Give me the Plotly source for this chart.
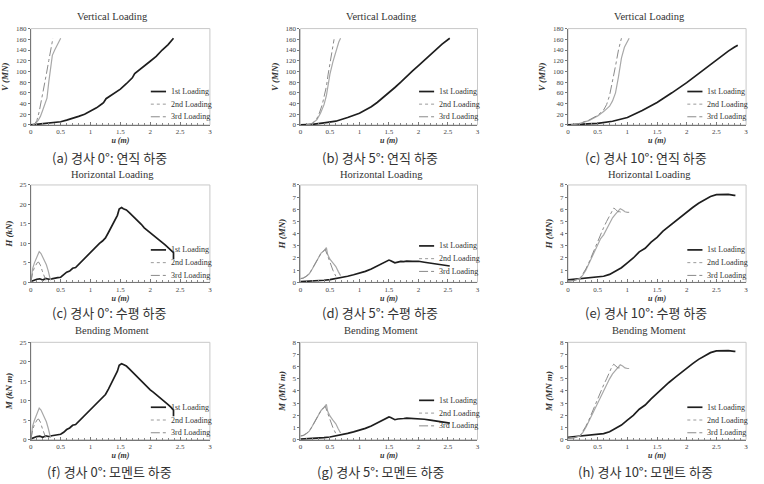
import plotly.graph_objects as go
from plotly.subplots import make_subplots

W, H = 764, 484

# ---------------- data ----------------
# (a) Vertical loading, 0 deg
V0_u1 = [0,0.1,0.2,0.3,0.4,0.5,0.6,0.7,0.8,0.9,1.0,1.1,1.2,1.22,1.26,1.3,1.4,1.5,1.6,1.7,1.74,1.8,1.9,2.0,2.1,2.15,2.2,2.3,2.39]
V0_v1 = [0,1,2,3,4,6,9,12,16,20,26,32,40,42,49,52,59,67,77,88,96,101,110,119,128,135,140,150,162]
V0_u2 = [0.03,0.08,0.12,0.16,0.2,0.24,0.27,0.3,0.33,0.36,0.4,0.45,0.5]
V0_v2 = [0,3,8,16,28,40,50,80,108,130,140,150,162]
V0_u3 = [0.03,0.07,0.1,0.14,0.18,0.22,0.26,0.3,0.34,0.37]
V0_v3 = [0,3,8,25,48,75,95,120,145,162]

# (b) Vertical loading, 5 deg
V5_u1 = [0,0.2,0.4,0.6,0.8,1.0,1.1,1.2,1.3,1.4,1.5,1.6,1.7,1.8,1.9,2.0,2.1,2.2,2.3,2.4,2.53]
V5_v1 = [0,1,4,7,14,22,28,34,42,51,60,70,80,91,101,111,121,132,142,151,162]
V5_u2 = [0.1,0.2,0.28,0.34,0.4,0.44,0.47,0.5,0.55,0.6,0.65,0.68]
V5_v2 = [0,3,10,22,38,55,75,95,118,138,155,162]
V5_u3 = [0.1,0.2,0.27,0.32,0.37,0.41,0.44,0.47,0.51,0.55,0.57]
V5_v3 = [0,3,10,22,38,55,72,95,120,145,160]

# (c) Vertical loading, 10 deg
V10_u1 = [0,0.25,0.5,0.75,1.0,1.25,1.5,1.75,2.0,2.25,2.5,2.6,2.7,2.8,2.86]
V10_v1 = [0,1,3,7,14,27,42,60,79,100,122,130,138,145,149]
V10_u2 = [0.05,0.2,0.35,0.5,0.6,0.7,0.75,0.8,0.85,0.9,0.95,1.0,1.03]
V10_v2 = [0,3,8,17,25,35,45,60,90,125,145,156,162]
V10_u3 = [0.05,0.2,0.35,0.5,0.6,0.65,0.7,0.75,0.8,0.85,0.9]
V10_v3 = [0,3,9,18,28,38,55,80,110,140,162]

# Horizontal loading, 0 deg
H0_u1 = [0,0.05,0.1,0.15,0.2,0.25,0.3,0.35,0.4,0.45,0.5,0.55,0.6,0.65,0.7,0.75,0.8,0.85,0.9,0.95,1.0,1.05,1.1,1.15,1.2,1.25,1.3,1.35,1.4,1.45,1.48,1.52,1.55,1.6,1.65,1.7,1.75,1.8,1.85,1.9,1.95,2.0,2.05,2.1,2.15,2.2,2.25,2.3,2.35,2.39,2.39]
H0_h1 = [0.2,0.6,0.8,0.9,0.6,1.0,0.8,0.9,1.1,1.2,1.3,1.9,2.6,2.9,3.6,3.8,4.6,5.2,6.1,6.8,7.6,8.4,9.2,10.0,10.6,11.4,12.8,14.2,15.6,17.2,18.8,19.2,18.9,18.6,17.9,17.2,16.4,15.6,14.9,14.0,13.4,12.6,12.1,11.5,11.0,10.3,9.6,8.9,8.2,7.6,6.0]
H0_u2 = [0,0.03,0.06,0.09,0.12,0.14,0.17,0.2,0.23,0.26,0.29,0.31,0.33]
H0_h2 = [0,3.5,5,6,7.3,7.9,7.4,6.5,5.3,4.5,3,1.5,0.5]
H0_u3 = [0,0.03,0.06,0.09,0.11,0.13,0.16,0.19,0.22,0.25]
H0_h3 = [0,2.5,3.8,4.6,5.1,5.2,4.4,3,1.6,0.5]

# Horizontal loading, 5 deg
H5_u1 = [0,0.1,0.2,0.3,0.4,0.5,0.6,0.7,0.8,0.9,1.0,1.1,1.2,1.3,1.4,1.45,1.5,1.53,1.57,1.6,1.65,1.7,1.75,1.8,1.9,2.0,2.1,2.2,2.3,2.4,2.5,2.53]
H5_h1 = [0.05,0.07,0.1,0.13,0.17,0.22,0.3,0.4,0.5,0.62,0.75,0.9,1.1,1.35,1.6,1.75,1.83,1.78,1.65,1.6,1.66,1.72,1.7,1.74,1.72,1.73,1.65,1.58,1.52,1.45,1.38,1.34]
H5_u2 = [0,0.05,0.1,0.15,0.2,0.25,0.3,0.35,0.4,0.44,0.46,0.5,0.55,0.6,0.64,0.68]
H5_h2 = [0.3,0.35,0.5,0.7,1.1,1.5,2.0,2.4,2.6,2.85,2.3,1.9,1.6,1.3,0.9,0.55]
H5_u3 = [0,0.05,0.1,0.15,0.2,0.25,0.3,0.35,0.4,0.42,0.46,0.5,0.55,0.6]
H5_h3 = [0.3,0.35,0.5,0.7,1.1,1.5,2.0,2.4,2.6,2.7,2.2,1.6,1.0,0.5]

# Horizontal loading, 10 deg
H10_u1 = [0,0.1,0.2,0.3,0.4,0.5,0.6,0.7,0.8,0.9,1.0,1.1,1.2,1.3,1.4,1.5,1.6,1.7,1.8,1.9,2.0,2.1,2.2,2.3,2.4,2.5,2.6,2.7,2.8,2.82]
H10_h1 = [0.2,0.25,0.3,0.32,0.38,0.42,0.5,0.65,0.9,1.2,1.6,2.0,2.5,2.8,3.3,3.7,4.2,4.6,5.0,5.4,5.8,6.15,6.5,6.8,7.05,7.2,7.2,7.22,7.15,7.15]
H10_u2 = [0,0.1,0.2,0.25,0.3,0.35,0.4,0.45,0.5,0.55,0.6,0.65,0.7,0.75,0.8,0.85,0.88,0.92,0.96,1.0,1.03]
H10_h2 = [0.1,0.15,0.3,0.6,1.0,1.5,2.0,2.5,3.1,3.6,3.9,4.4,4.9,5.3,5.6,5.9,6.05,5.95,5.8,5.75,5.75]
H10_u3 = [0,0.1,0.2,0.25,0.3,0.35,0.4,0.45,0.5,0.55,0.6,0.65,0.7,0.74,0.77,0.8,0.84,0.87,0.9]
H10_h3 = [0.1,0.15,0.3,0.65,1.1,1.6,2.2,2.7,3.3,3.9,4.5,5.0,5.5,5.9,6.1,6.0,5.8,5.8,5.75]

# Bending moment, 0 deg
M0_u1 = [0,0.05,0.1,0.15,0.2,0.25,0.3,0.35,0.4,0.45,0.5,0.55,0.6,0.65,0.7,0.75,0.8,0.85,0.9,0.95,1.0,1.05,1.1,1.15,1.2,1.25,1.3,1.35,1.4,1.45,1.48,1.52,1.55,1.6,1.65,1.7,1.75,1.8,1.85,1.9,1.95,2.0,2.05,2.1,2.15,2.2,2.25,2.3,2.35,2.39,2.39]
M0_m1 = [0.2,0.6,0.8,0.9,0.6,1.0,0.8,1.0,1.1,1.2,1.4,1.9,2.6,3.0,3.7,3.9,4.7,5.3,6.2,7.0,7.8,8.6,9.4,10.2,10.8,11.6,13.0,14.5,16.0,17.6,19.1,19.5,19.3,18.9,18.2,17.4,16.6,15.8,15.0,14.2,13.5,12.8,12.2,11.6,11.0,10.3,9.6,9.0,8.3,7.6,6.0]
M0_u2 = [0,0.03,0.06,0.09,0.12,0.14,0.17,0.2,0.23,0.26,0.29,0.31,0.33]
M0_m2 = [0,3.5,5,6.1,7.5,8.1,7.6,6.6,5.4,4.6,3,1.5,0.5]
M0_u3 = [0,0.03,0.06,0.09,0.11,0.13,0.16,0.19,0.22,0.25]
M0_m3 = [0,2.5,3.9,4.7,5.2,5.3,4.5,3,1.6,0.5]

# Bending moment, 5 deg
M5_u1 = [0,0.1,0.2,0.3,0.4,0.5,0.6,0.7,0.8,0.9,1.0,1.1,1.2,1.3,1.4,1.45,1.5,1.53,1.57,1.6,1.65,1.7,1.75,1.8,1.9,2.0,2.1,2.2,2.3,2.4,2.5,2.53]
M5_m1 = [0.05,0.07,0.1,0.13,0.17,0.22,0.3,0.4,0.52,0.64,0.78,0.93,1.13,1.4,1.65,1.8,1.87,1.82,1.7,1.64,1.7,1.75,1.74,1.77,1.75,1.76,1.68,1.6,1.54,1.47,1.4,1.36]
M5_u2 = [0,0.05,0.1,0.15,0.2,0.25,0.3,0.35,0.4,0.44,0.46,0.5,0.55,0.6,0.64,0.68]
M5_m2 = [0.3,0.35,0.5,0.7,1.1,1.5,2.0,2.4,2.65,2.9,2.35,1.95,1.6,1.3,0.9,0.55]
M5_u3 = [0,0.05,0.1,0.15,0.2,0.25,0.3,0.35,0.4,0.42,0.46,0.5,0.55,0.6]
M5_m3 = [0.3,0.35,0.5,0.7,1.1,1.5,2.0,2.4,2.65,2.75,2.2,1.6,1.0,0.5]

# Bending moment, 10 deg
M10_u1 = [0,0.1,0.2,0.3,0.4,0.5,0.6,0.7,0.8,0.9,1.0,1.1,1.2,1.3,1.4,1.5,1.6,1.7,1.8,1.9,2.0,2.1,2.2,2.3,2.4,2.5,2.6,2.7,2.8,2.82]
M10_m1 = [0.2,0.25,0.3,0.32,0.38,0.42,0.5,0.65,0.9,1.2,1.6,2.0,2.5,2.85,3.35,3.8,4.3,4.7,5.1,5.5,5.9,6.25,6.6,6.9,7.15,7.3,7.3,7.32,7.25,7.25]
M10_u2 = [0,0.1,0.2,0.25,0.3,0.35,0.4,0.45,0.5,0.55,0.6,0.65,0.7,0.75,0.8,0.85,0.88,0.92,0.96,1.0,1.03]
M10_m2 = [0.1,0.15,0.3,0.6,1.0,1.5,2.0,2.5,3.1,3.6,4.0,4.5,5.0,5.4,5.7,6.0,6.15,6.05,5.9,5.85,5.85]
M10_u3 = [0,0.1,0.2,0.25,0.3,0.35,0.4,0.45,0.5,0.55,0.6,0.65,0.7,0.74,0.77,0.8,0.84,0.87,0.9]
M10_m3 = [0.1,0.15,0.3,0.65,1.1,1.6,2.2,2.7,3.3,3.9,4.5,5.0,5.6,6.0,6.2,6.1,5.9,5.9,5.85]

series_names = ["1st Loading", "2nd Loading", "3rd Loading"]
panel_titles = ["Vertical Loading", "Horizontal Loading", "Bending Moment"]
y_titles = [["V (MN)", "V (MN)", "V (MN)"],
            ["H (kN)", "H (MN)", "H (MN)"],
            ["M (kN m)", "M (MN m)", "M (MN m)"]]
captions = [["(a) 경사 0°: 연직 하중", "(b) 경사 5°: 연직 하중", "(c) 경사 10°: 연직 하중"],
            ["(c) 경사 0°: 수평 하중", "(d) 경사 5°: 수평 하중", "(e) 경사 10°: 수평 하중"],
            ["(f) 경사 0°: 모멘트 하중", "(g) 경사 5°: 모멘트 하중", "(h) 경사 10°: 모멘트 하중"]]
y_ranges = [[180, 180, 180], [25, 8, 8], [25, 8, 8]]
y_dticks = [[20, 20, 20], [5, 1, 1], [5, 1, 1]]

panels = [
    [((V0_u1, V0_v1), (V0_u2, V0_v2), (V0_u3, V0_v3)),
     ((V5_u1, V5_v1), (V5_u2, V5_v2), (V5_u3, V5_v3)),
     ((V10_u1, V10_v1), (V10_u2, V10_v2), (V10_u3, V10_v3))],
    [((H0_u1, H0_h1), (H0_u2, H0_h2), (H0_u3, H0_h3)),
     ((H5_u1, H5_h1), (H5_u2, H5_h2), (H5_u3, H5_h3)),
     ((H10_u1, H10_h1), (H10_u2, H10_h2), (H10_u3, H10_h3))],
    [((M0_u1, M0_m1), (M0_u2, M0_m2), (M0_u3, M0_m3)),
     ((M5_u1, M5_m1), (M5_u2, M5_m2), (M5_u3, M5_m3)),
     ((M10_u1, M10_m1), (M10_u2, M10_m2), (M10_u3, M10_m3))],
]

# ---------------- layout geometry (pixels) ----------------
col_px = [(29, 209), (300, 478), (569, 748)]
row_px = [(25, 123), (184, 283), (344, 443)]
title_y_px = [13, 173, 332]
caption_y_px = [156, 314, 475]
caption_x_px = [108, 380, 647]
legend_top = [[0.347, 0.347, 0.347], [0.333, 0.374, 0.333], [0.333, 0.404, 0.333]]
legend_gap = 0.131

def px(x):
    return x / W

def py(y):
    return 1 - y / H

SERIF = "Liberation Serif"
line_styles = [dict(color="#1e1e1e", width=1.7, dash="solid"),
               dict(color="#a8a8a8", width=1.2, dash="solid"),
               dict(color="#8a8a8a", width=1.0, dash="dashdot")]
legend_styles = [dict(color="#1e1e1e", width=1.7, dash="solid"),
                 dict(color="#9a9a9a", width=1.0, dash="dot"),
                 dict(color="#8a8a8a", width=1.0, dash="dashdot")]

fig = make_subplots(rows=3, cols=3)

shapes = []
annotations = []
for r in range(3):
    for c in range(3):
        for k in range(3):
            xs, ys = panels[r][c][k]
            fig.add_trace(go.Scatter(x=xs, y=ys, mode="lines", line=line_styles[k],
                                     name=series_names[k], showlegend=False,
                                     hoverinfo="skip"),
                          row=r + 1, col=c + 1)
        idx = r * 3 + c + 1
        xa = "xaxis" if idx == 1 else f"xaxis{idx}"
        ya = "yaxis" if idx == 1 else f"yaxis{idx}"
        xref = "x" if idx == 1 else f"x{idx}"
        yref = "y" if idx == 1 else f"y{idx}"
        x0, x1 = col_px[c]
        y0, y1 = row_px[r]
        fig.layout[xa].update(
            domain=[px(x0), px(x1)], range=[0, 3], dtick=0.5, tick0=0,
            showgrid=False, zeroline=False, showline=True, linecolor="#777777",
            linewidth=1, ticks="inside", ticklen=3, tickcolor="#777777",
            minor=dict(dtick=0.1, ticks="inside", ticklen=2, tickcolor="#888888"),
            tickfont=dict(family=SERIF, size=7, color="#444444"),
            title=dict(text="<b><i>u (m)</i></b>", standoff=0,
                       font=dict(family=SERIF, size=8, color="#333333")))
        fig.layout[ya].update(
            domain=[py(y1), py(y0)], range=[0, y_ranges[r][c]], dtick=y_dticks[r][c],
            showgrid=False, zeroline=False, showline=True, linecolor="#777777",
            linewidth=1, ticks="outside", ticklen=2, tickcolor="#777777",
            tickfont=dict(family=SERIF, size=7, color="#444444"),
            title=dict(text=f"<b><i>{y_titles[r][c]}</i></b>", standoff=5,
                       font=dict(family=SERIF, size=9, color="#333333")))
        # light frame around plot area
        shapes.append(dict(type="rect", xref=f"{xref} domain", yref=f"{yref} domain",
                           x0=0, x1=1, y0=0, y1=1, layer="below",
                           line=dict(color="#c8c8c8", width=1)))
        # panel title
        annotations.append(dict(text=panel_titles[r], xref="paper", yref="paper",
                                x=px((x0 + x1) / 2 - 8), y=py(title_y_px[r]),
                                xanchor="center", yanchor="middle", showarrow=False,
                                font=dict(family=SERIF, size=10.5, color="#333333")))
        # caption
        annotations.append(dict(text=captions[r][c], xref="paper", yref="paper",
                                x=px(caption_x_px[c]), y=py(caption_y_px[r]),
                                xanchor="center", yanchor="middle", showarrow=False,
                                borderpad=0,
                                font=dict(family="Noto Sans CJK KR", size=13, color="#333333")))
        # legend (drawn inside the plot area)
        for k in range(3):
            ly = legend_top[r][c] - k * legend_gap
            shapes.append(dict(type="line", xref=f"{xref} domain", yref=f"{yref} domain",
                               x0=0.67, x1=0.755, y0=ly, y1=ly,
                               line=legend_styles[k]))
            annotations.append(dict(text=series_names[k], xref=f"{xref} domain",
                                    yref=f"{yref} domain", x=0.77, y=ly,
                                    xanchor="left", yanchor="middle", showarrow=False,
                                    font=dict(family=SERIF, size=8, color="#333333")))

fig.update_layout(width=W, height=H, margin=dict(l=0, r=0, t=0, b=0),
                  paper_bgcolor="white", plot_bgcolor="white",
                  shapes=shapes, annotations=annotations, showlegend=False)

fig.write_html("out.html", config={"displayModeBar": False},
               post_script="document.body.style.margin='0';document.body.style.overflow='hidden';")
